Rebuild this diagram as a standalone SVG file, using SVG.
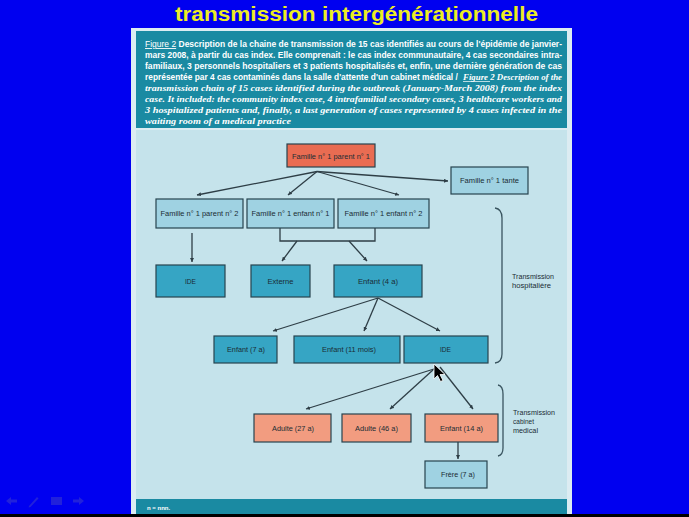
<svg xmlns="http://www.w3.org/2000/svg" width="689" height="517" viewBox="0 0 689 517">
<defs>
<style>
.node rect{stroke:#27434f;stroke-width:1.2}
.lb{fill:#9fd2e2}
.tl{fill:#36a5c4}
.sa{fill:#f29c80}
.sr{fill:#e96c52}
.nt{font-family:"Liberation Sans Narrow","Liberation Sans",Arial,sans-serif;font-size:7.5px;fill:#1a2c34;text-anchor:middle}
.cap{font-family:"Liberation Sans Narrow","Liberation Sans",Arial,sans-serif;font-size:9px;fill:#ffffff;font-weight:600}
.en{font-family:"Liberation Serif","Times New Roman",serif;font-style:italic;font-weight:bold}
.side{font-family:"Liberation Sans Narrow","Liberation Sans",Arial,sans-serif;font-size:7px;fill:#1a2c34}
#connectors line,#connectors path{stroke:#2e3e46;stroke-width:1.3;fill:none}
.br{stroke:#3a5560;stroke-width:1.3;fill:none}
</style>
<marker id="ah" viewBox="0 0 10 10" refX="10" refY="5" markerWidth="4" markerHeight="4" markerUnits="userSpaceOnUse" orient="auto">
<path d="M0,0 L10,5 L0,10 Z" fill="#2e3e46"/>
</marker>
</defs>

<rect x="0" y="0" width="689" height="517" fill="#0000f0"/>
<text x="356.5" y="20.5" font-family="Liberation Sans,Arial,sans-serif" font-weight="bold" font-size="20" fill="#ecec24" text-anchor="middle" textLength="363" lengthAdjust="spacingAndGlyphs">transmission intergénérationnelle</text>

<!-- panel -->
<rect x="131" y="28" width="441" height="487" fill="#dcecf2"/>
<rect x="136" y="31" width="431" height="97" fill="#1a8aa2"/>
<rect x="136" y="130" width="431" height="369" fill="#c5e3eb"/>
<rect x="136" y="499" width="431" height="16" fill="#1a8aa2"/>
<text x="147" y="510" font-family="Liberation Sans,Arial,sans-serif" font-size="6" font-weight="bold" fill="#ffffff">n = nnn.</text>
<rect x="0" y="514" width="689" height="3" fill="#000000"/>

<!-- caption -->
<g id="caption">
<text class="cap" x="145" y="47" textLength="417" lengthAdjust="spacingAndGlyphs"><tspan font-weight="normal" text-decoration="underline">Figure 2</tspan> Description de la chaine de transmission de 15 cas identifiés au cours de l'épidémie de janvier-</text>
<text class="cap" x="145" y="58" textLength="417" lengthAdjust="spacingAndGlyphs">mars 2008, à partir du cas index. Elle comprenait : le cas index communautaire, 4 cas secondaires intra-</text>
<text class="cap" x="145" y="69" textLength="417" lengthAdjust="spacingAndGlyphs">familiaux, 3 personnels hospitaliers et 3 patients hospitalisés et, enfin, une dernière génération de cas</text>
<text class="cap" transform="translate(145,80) scale(0.78,1)" x="0" y="0" textLength="401" lengthAdjust="spacingAndGlyphs">représentée par 4 cas contaminés dans la salle d'attente d'un cabinet médical /</text>
<text class="cap en" x="463" y="80" textLength="99" lengthAdjust="spacingAndGlyphs">Figure 2 Description of the</text>
<line x1="463" y1="81.5" x2="490" y2="81.5" stroke="#ffffff" stroke-width="0.7"/>
<text class="cap en" x="145" y="91" textLength="417" lengthAdjust="spacingAndGlyphs">transmission chain of 15 cases identified during the outbreak (January-March 2008) from the index</text>
<text class="cap en" x="145" y="102" textLength="417" lengthAdjust="spacingAndGlyphs">case. It included: the community index case, 4 intrafamilial secondary cases, 3 healthcare workers and</text>
<text class="cap en" x="145" y="113" textLength="417" lengthAdjust="spacingAndGlyphs">3 hospitalized patients and, finally, a last generation of cases represented by 4 cases infected in the</text>
<text class="cap en" x="145" y="124" textLength="146" lengthAdjust="spacingAndGlyphs">waiting room of a medical practice</text>
</g>

<!-- connectors -->
<g id="connectors">
<line x1="317" y1="171.5" x2="197" y2="195" marker-end="url(#ah)"/>
<line x1="317" y1="171.5" x2="288" y2="195" marker-end="url(#ah)"/>
<line x1="317" y1="171.5" x2="399" y2="195" marker-end="url(#ah)"/>
<line x1="317" y1="171.5" x2="448" y2="181" marker-end="url(#ah)"/>
<line x1="192" y1="233" x2="192" y2="262" marker-end="url(#ah)"/>
<path d="M280,228 V241 H375 V228"/>
<line x1="297" y1="241" x2="282" y2="261" marker-end="url(#ah)"/>
<line x1="349" y1="241" x2="367" y2="261" marker-end="url(#ah)"/>
<line x1="378" y1="298" x2="273" y2="331" marker-end="url(#ah)"/>
<line x1="378" y1="298" x2="364" y2="331" marker-end="url(#ah)"/>
<line x1="378" y1="298" x2="440" y2="331" marker-end="url(#ah)"/>
<line x1="434" y1="369" x2="306" y2="409" marker-end="url(#ah)"/>
<line x1="434" y1="369" x2="390" y2="409" marker-end="url(#ah)"/>
<line x1="440" y1="367" x2="473" y2="409" marker-end="url(#ah)"/>
<line x1="458" y1="442" x2="458" y2="459" marker-end="url(#ah)"/>
</g>

<!-- nodes -->
<g id="n-parent1" class="node"><rect class="sr" x="287" y="144" width="88" height="23"/><text class="nt" x="331" y="158.5" textLength="78" lengthAdjust="spacingAndGlyphs">Famille n° 1 parent n° 1</text></g>
<g id="n-tante" class="node"><rect class="lb" x="451" y="167" width="77" height="27"/><text class="nt" x="489.5" y="183" textLength="59" lengthAdjust="spacingAndGlyphs">Famille n° 1 tante</text></g>
<g id="n-parent2" class="node"><rect class="lb" x="156" y="199" width="87" height="29"/><text class="nt" x="199.5" y="216" textLength="78" lengthAdjust="spacingAndGlyphs">Famille n° 1 parent n° 2</text></g>
<g id="n-enfant1" class="node"><rect class="lb" x="247" y="199" width="87" height="29"/><text class="nt" x="290.5" y="216" textLength="78" lengthAdjust="spacingAndGlyphs">Famille n° 1 enfant n° 1</text></g>
<g id="n-enfant2" class="node"><rect class="lb" x="338" y="199" width="91" height="29"/><text class="nt" x="383.5" y="216" textLength="78" lengthAdjust="spacingAndGlyphs">Famille n° 1 enfant n° 2</text></g>

<g id="n-ide1" class="node"><rect class="tl" x="156" y="265" width="69" height="32"/><text class="nt" x="190.5" y="283.5" textLength="11" lengthAdjust="spacingAndGlyphs">IDE</text></g>
<g id="n-externe" class="node"><rect class="tl" x="251" y="265" width="59" height="32"/><text class="nt" x="280.5" y="283.5" textLength="26" lengthAdjust="spacingAndGlyphs">Externe</text></g>
<g id="n-enfant4" class="node"><rect class="tl" x="334" y="265" width="88" height="32"/><text class="nt" x="378" y="283.5" textLength="40" lengthAdjust="spacingAndGlyphs">Enfant (4 a)</text></g>

<g id="n-enfant7" class="node"><rect class="tl" x="214" y="336" width="63" height="27"/><text class="nt" x="246" y="352" textLength="38" lengthAdjust="spacingAndGlyphs">Enfant (7 a)</text></g>
<g id="n-enfant11m" class="node"><rect class="tl" x="294" y="336" width="106" height="27"/><text class="nt" x="349" y="352" textLength="54" lengthAdjust="spacingAndGlyphs">Enfant (11 mois)</text></g>
<g id="n-ide2" class="node"><rect class="tl" x="404" y="336" width="84" height="27"/><text class="nt" x="445.5" y="352" textLength="11" lengthAdjust="spacingAndGlyphs">IDE</text></g>

<g id="n-adulte27" class="node"><rect class="sa" x="254" y="414" width="77" height="28"/><text class="nt" x="293" y="430.5" textLength="42" lengthAdjust="spacingAndGlyphs">Adulte (27 a)</text></g>
<g id="n-adulte46" class="node"><rect class="sa" x="342" y="414" width="69" height="28"/><text class="nt" x="376.5" y="430.5" textLength="43" lengthAdjust="spacingAndGlyphs">Adulte (46 a)</text></g>
<g id="n-enfant14" class="node"><rect class="sa" x="425" y="414" width="73" height="28"/><text class="nt" x="461.5" y="430.5" textLength="43" lengthAdjust="spacingAndGlyphs">Enfant (14 a)</text></g>
<g id="n-frere" class="node"><rect class="lb" x="425" y="461" width="62" height="27"/><text class="nt" x="458" y="477" textLength="34" lengthAdjust="spacingAndGlyphs">Frère (7 a)</text></g>

<!-- brackets and side labels -->
<g id="bracket-hosp">
<path class="br" d="M495,208 Q502,209 502,218 L502,354 Q502,362 495,363"/>
<text class="side" x="512" y="279" textLength="42" lengthAdjust="spacingAndGlyphs">Transmission</text>
<text class="side" x="512" y="288" textLength="39" lengthAdjust="spacingAndGlyphs">hospitalière</text>
</g>
<g id="bracket-cab">
<path class="br" d="M498,385 Q503,386 503,394 L503,448 Q503,455 498,456"/>
<text class="side" x="513" y="415" textLength="42" lengthAdjust="spacingAndGlyphs">Transmission</text>
<text class="side" x="513" y="424" textLength="21" lengthAdjust="spacingAndGlyphs">cabinet</text>
<text class="side" x="513" y="433" textLength="25" lengthAdjust="spacingAndGlyphs">medical</text>
</g>

<!-- nav icons -->
<g fill="#2a2ad6" opacity="0.8">
<path d="M6,501 L11,497 L11,499.5 L17,499.5 L17,502.5 L11,502.5 L11,505 Z"/>
<path d="M29,506 L37,497 L38.5,498.5 L30.5,507 L28.5,507.5 Z"/>
<rect x="51" y="497" width="11" height="8"/>
<path d="M84,501 L79,497 L79,499.5 L73,499.5 L73,502.5 L79,502.5 L79,505 Z"/>
</g>

<!-- mouse cursor -->
<path d="M434,364 L434,379 L437.5,375.5 L440.5,381.5 L443,380.5 L440,374.5 L445,374.5 Z" fill="#000000" stroke="#ffffff" stroke-width="0.8"/>
</svg>
